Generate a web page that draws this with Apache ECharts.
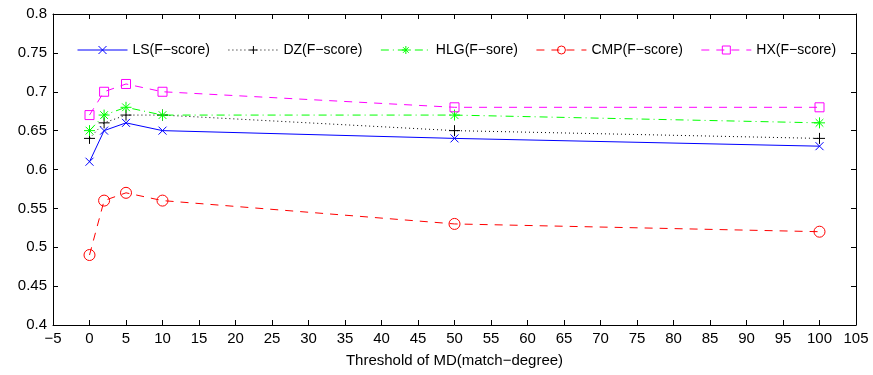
<!DOCTYPE html>
<html>
<head>
<meta charset="utf-8">
<script src="https://cdn.jsdelivr.net/npm/echarts@6/dist/echarts.min.js"></script>
<style>
  html, body { margin: 0; padding: 0; background: #fff; }
  #chart { width: 873px; height: 375px; }
</style>
</head>
<body>
<div id="chart"></div>
<script>
const thresholds = [0, 2, 5, 10, 50, 100];
const lsScore = [0.61, 0.65, 0.66, 0.65, 0.64, 0.63];
const dzScore = [0.64, 0.66, 0.67, 0.67, 0.65, 0.64];
const hlgScore = [0.65, 0.67, 0.68, 0.67, 0.67, 0.66];
const cmpScore = [0.49, 0.56, 0.57, 0.56, 0.53, 0.52];
const hxScore = [0.67, 0.70, 0.71, 0.70, 0.68, 0.68];

const FONT = "'Liberation Sans', Arial, sans-serif";
const CROSS = "path://M0,0L10,10M10,0L0,10";
const PLUS = "path://M5,0L5,10M0,5L10,5";
const STAR = "path://M5,0L5,10M0,5L10,5M1.5,1.5L8.5,8.5M8.5,1.5L1.5,8.5";
const SQUARE = "path://M0,0L10,0L10,10L0,10Z";
const CLEAR = "rgba(0,0,0,0)";

const pairs = (ys) => thresholds.map((x, i) => [x, ys[i]]);

const seriesDefs = [
  { name: "LS(F\u2212score)", ys: lsScore, color: "#0000ff", dash: "solid", symbol: CROSS, size: 8 },
  { name: "DZ(F\u2212score)", ys: dzScore, color: "#000000", dash: [1, 3], symbol: PLUS, size: 11 },
  { name: "HLG(F\u2212sore)", ys: hlgScore, color: "#00ff00", dash: [8, 4, 1, 4], symbol: STAR, size: 11 },
  { name: "CMP(F\u2212score)", ys: cmpScore, color: "#ff0000", dash: [8, 7], symbol: "circle", size: 11 },
  { name: "HX(F\u2212score)", ys: hxScore, color: "#ff00ff", dash: [8, 7], symbol: SQUARE, size: 9 },
];

const series = seriesDefs.map((d) => ({
  name: d.name,
  type: "line",
  data: pairs(d.ys),
  symbol: d.symbol,
  symbolSize: d.size,
  showAllSymbol: true,
  lineStyle: { color: d.color, width: 1, type: d.dash },
  itemStyle: { color: CLEAR, borderColor: d.color, borderWidth: 1 },
  emphasis: { disabled: true },
  z: 3,
}));

const legendData = seriesDefs.map((d) => ({
  name: d.name,
  itemStyle: { color: CLEAR, borderColor: d.color, borderWidth: 1 },
  lineStyle: { color: d.color, width: 1, type: d.dash },
}));

const chart = echarts.init(document.getElementById("chart"), null, { renderer: "canvas" });

const axisLine = { show: true, onZero: false, lineStyle: { color: "#000", width: 1 } };
const axisTick = { show: true, inside: true, length: 5, lineStyle: { color: "#000" } };

chart.setOption({
  backgroundColor: "#fff",
  animation: false,
  grid: { left: 53, right: 17, top: 14, bottom: 50, containLabel: false },
  legend: {
    top: 38,
    left: 72,
    itemGap: 18,
    itemWidth: 50,
    itemHeight: 10,
    textStyle: { fontFamily: FONT, fontSize: 14, color: "#000" },
    data: legendData,
  },
  xAxis: [
    {
      type: "value",
      min: -5,
      max: 105,
      interval: 5,
      name: "Threshold of MD(match\u2212degree)",
      nameLocation: "middle",
      nameGap: 28,
      nameTextStyle: { fontFamily: FONT, fontSize: 15, color: "#000" },
      axisLine,
      axisTick,
      splitLine: { show: false },
      axisLabel: {
        fontFamily: FONT,
        fontSize: 15,
        color: "#000",
        margin: 6,
        formatter: (v) => (v < 0 ? "\u2212" + Math.abs(v) : String(v)),
      },
    },
    {
      type: "value",
      position: "top",
      min: -5,
      max: 105,
      interval: 5,
      axisLine,
      axisTick,
      axisLabel: { show: false },
      splitLine: { show: false },
    },
  ],
  yAxis: [
    {
      type: "value",
      min: 0.4,
      max: 0.8,
      interval: 0.05,
      axisLine,
      axisTick,
      splitLine: { show: false },
      axisLabel: {
        fontFamily: FONT,
        fontSize: 15,
        color: "#000",
        margin: 6,
        formatter: (v) => String(Math.round(v * 100) / 100),
      },
    },
    {
      type: "value",
      position: "right",
      min: 0.4,
      max: 0.8,
      interval: 0.05,
      axisLine,
      axisTick,
      axisLabel: { show: false },
      splitLine: { show: false },
    },
  ],
  series,
});
</script>
</body>
</html>
